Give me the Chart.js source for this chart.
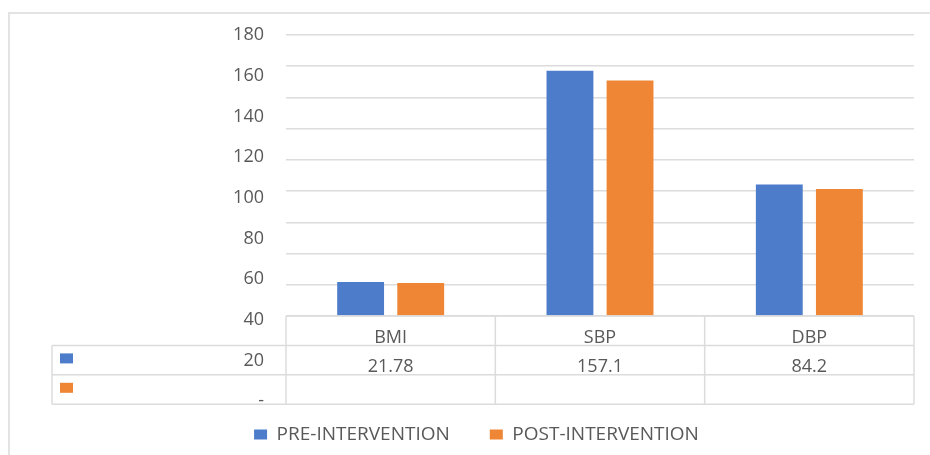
<!DOCTYPE html>
<html>
<head>
<meta charset="utf-8">
<script src="https://cdn.jsdelivr.net/npm/chart.js@4.4.1/dist/chart.umd.min.js"></script>
<style>
  html, body { margin: 0; padding: 0; background: #fff; }
  #wrap { position: relative; width: 930px; height: 455px; overflow: hidden; }
  #frame { position: absolute; left: 8px; top: 12px; right: -4px; bottom: -4px;
           border-top: 2px solid #e3e3e3; border-left: 2px solid #e3e3e3; }
  #chart { position: absolute; left: 0; top: 0; }
</style>
</head>
<body>
<div id="wrap">
  <div id="frame"></div>
  <canvas id="chart" width="930" height="455"></canvas>
</div>
<script>
const categories = ["BMI", "SBP", "DBP"];
const seriesNames = ["PRE-INTERVENTION", "POST-INTERVENTION"];
const preValues = [21.78, 157.1, 84.2];
const postValues = [21.2, 150.8, 81.3];
const tickLabels = ["180", "160", "140", "120", "100", "80", "60", "40", "20", "-"];

const seriesColors = ["#4d7cca", "#ee8636"];
const textColor = "#595959";
const lineColor = "#dcdcdc";
const fontFamily = "'Open Sans', 'Noto Sans', sans-serif";
const rowHeight = 29.4;
const tableLeft = 52;

// Excel-style data table under the plot, plus the (misplaced) value labels
const dataTablePlugin = {
  id: "dataTable",
  afterDraw(chart) {
    const ctx = chart.ctx;
    const area = chart.chartArea;
    const xScale = chart.scales.x;
    const top = area.bottom;
    const bottom = top + rowHeight * 3;
    const colWidth = (area.right - area.left) / categories.length;

    function line(x1, y1, x2, y2) {
      ctx.beginPath();
      ctx.moveTo(x1, y1);
      ctx.lineTo(x2, y2);
      ctx.stroke();
    }

    ctx.save();
    ctx.strokeStyle = lineColor;
    ctx.lineWidth = 1.5;
    line(area.left, top, area.right, top);
    for (let r = 1; r <= 3; r++) {
      line(tableLeft, top + r * rowHeight, area.right, top + r * rowHeight);
    }
    for (let c = 0; c <= categories.length; c++) {
      const x = area.left + c * colWidth;
      line(x, top, x, bottom);
    }
    line(tableLeft, top + rowHeight, tableLeft, bottom);

    seriesColors.forEach(function (color, i) {
      ctx.fillStyle = color;
      ctx.fillRect(tableLeft + 8, top + (i + 1) * rowHeight + 8, 13, 10);
    });

    ctx.fillStyle = textColor;
    ctx.font = "18px " + fontFamily;
    ctx.textAlign = "center";
    ctx.textBaseline = "middle";
    preValues.forEach(function (value, i) {
      ctx.fillText(String(value), xScale.getPixelForValue(i), top + rowHeight * 1.5 + 7);
    });

    ctx.textAlign = "right";
    const step = (bottom - 3 - area.top) / (tickLabels.length - 1);
    tickLabels.forEach(function (label, i) {
      ctx.fillText(label, area.left - 22, area.top + i * step);
    });
    ctx.restore();
  }
};

new Chart(document.getElementById("chart").getContext("2d"), {
  type: "bar",
  data: {
    labels: categories,
    datasets: [
      {
        label: seriesNames[0],
        data: preValues,
        backgroundColor: seriesColors[0],
        borderWidth: 0,
        barPercentage: 0.78,
        categoryPercentage: 0.574
      },
      {
        label: seriesNames[1],
        data: postValues,
        backgroundColor: seriesColors[1],
        borderWidth: 0,
        barPercentage: 0.78,
        categoryPercentage: 0.574
      }
    ]
  },
  options: {
    responsive: false,
    animation: false,
    layout: { padding: { top: 35, right: 16, bottom: 1, left: 39 } },
    plugins: {
      tooltip: { enabled: false },
      legend: {
        display: true,
        position: "bottom",
        labels: {
          color: textColor,
          font: { family: fontFamily, size: 19 },
          boxWidth: 13,
          boxHeight: 10,
          padding: 40
        }
      }
    },
    scales: {
      x: {
        grid: { display: false },
        border: { display: false },
        ticks: { color: textColor, font: { family: fontFamily, size: 18 }, padding: 3 },
        afterFit: function (scale) { scale.height = 69; }
      },
      y: {
        min: 0,
        max: 180,
        ticks: { display: false, stepSize: 20 },
        grid: { color: lineColor, lineWidth: 1.5, drawTicks: false },
        border: { display: false },
        afterFit: function (scale) { scale.width = 247; }
      }
    }
  },
  plugins: [dataTablePlugin]
});
</script>
</body>
</html>
